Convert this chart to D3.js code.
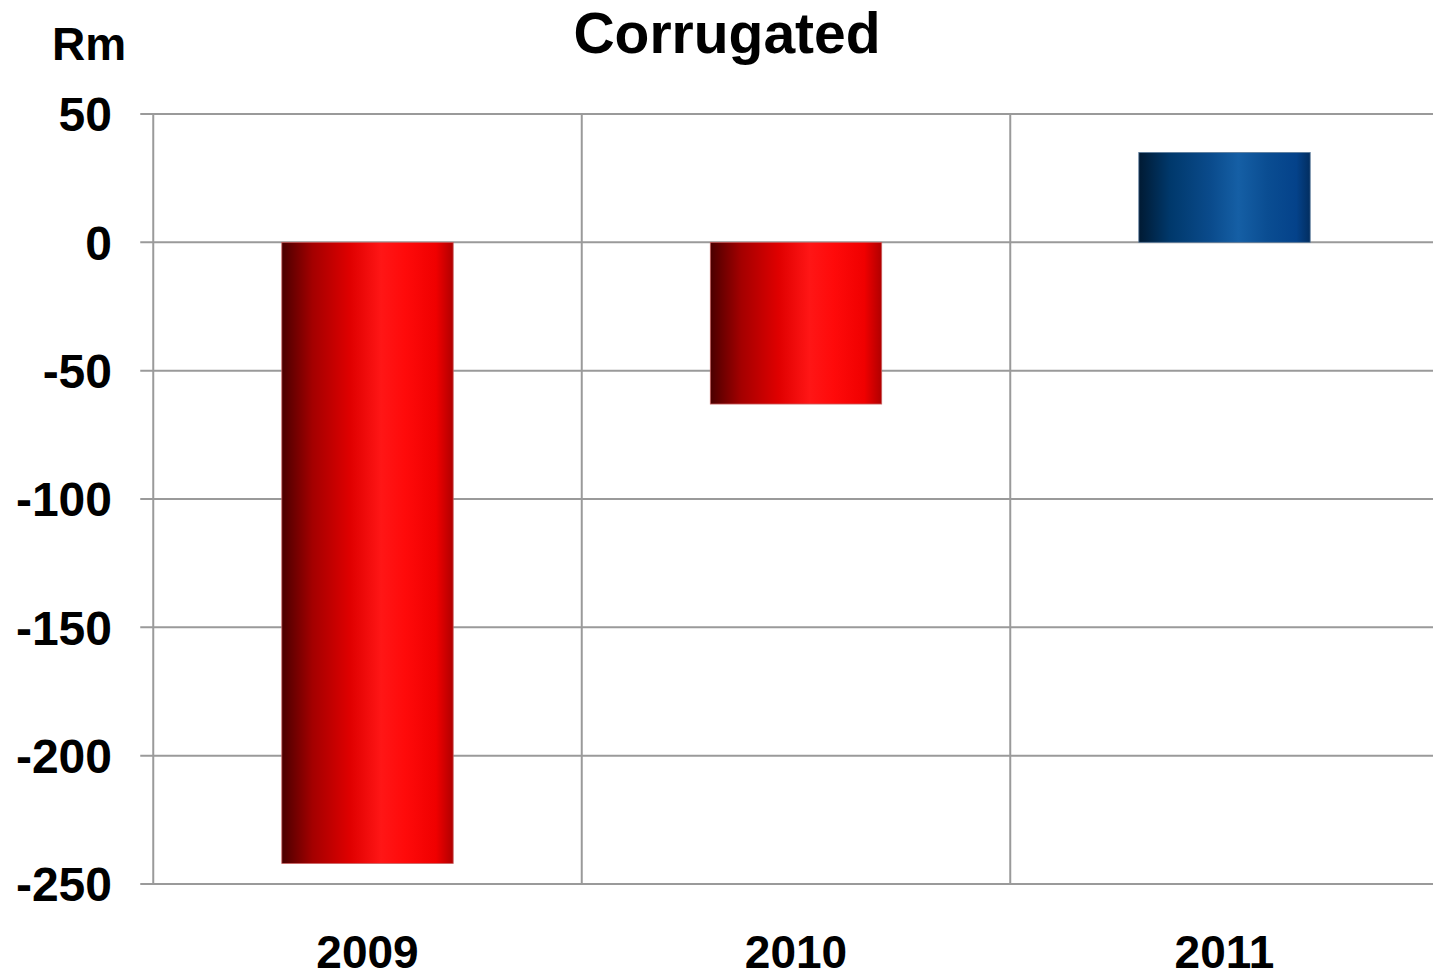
<!DOCTYPE html>
<html>
<head>
<meta charset="utf-8">
<script src="https://cdn.jsdelivr.net/npm/d3@7"></script>
<style>
  html, body { margin: 0; padding: 0; background: #fff; }
  svg { display: block; }
  text { font-family: "Liberation Sans", Arial, sans-serif; font-weight: bold; fill: #000; }
</style>
</head>
<body>
<svg id="chart" width="1433" height="978"></svg>
<script>
// Corrugated segment result by year, Rm
const years = ["2009", "2010", "2011"];
const values = [-242, -63, 35];
const yTicks = [50, 0, -50, -100, -150, -200, -250];

const svg = d3.select("#chart");
const plot = { left: 153.25, right: 1438.75, top: 114, bottom: 884 };

const x = d3.scaleBand().domain(years).range([plot.left, plot.right]).paddingInner(0).paddingOuter(0);
const y = d3.scaleLinear().domain([-250, 50]).range([plot.bottom, plot.top]);

// Cylinder-style shading for the bars
const defs = svg.append("defs");
function shade(id, stops) {
  const g = defs.append("linearGradient").attr("id", id).attr("x1", "0%").attr("x2", "100%").attr("y1", "0%").attr("y2", "0%");
  stops.forEach(([o, c]) => g.append("stop").attr("offset", o).attr("stop-color", c));
}
shade("neg", [["0%", "#4a0000"], ["18%", "#a40000"], ["40%", "#e00000"], ["58%", "#ff1616"], ["72%", "#ff0a0a"], ["90%", "#f00000"], ["100%", "#b00000"]]);
shade("pos", [["0%", "#001a33"], ["18%", "#00386b"], ["42%", "#0a4b8c"], ["58%", "#155fa5"], ["75%", "#0a4d92"], ["92%", "#04428a"], ["100%", "#022e60"]]);

const grid = "#9a9a9a";

// horizontal gridlines with left tick marks
svg.append("g").selectAll("line").data(yTicks).join("line")
  .attr("x1", plot.left - 13).attr("x2", plot.right)
  .attr("y1", d => y(d)).attr("y2", d => y(d))
  .attr("stroke", grid).attr("stroke-width", 2);

// vertical gridlines at category boundaries
const bounds = years.map(d => x(d));
svg.append("g").selectAll("line").data(bounds).join("line")
  .attr("x1", d => d).attr("x2", d => d)
  .attr("y1", plot.top).attr("y2", plot.bottom)
  .attr("stroke", grid).attr("stroke-width", 2);

// y tick labels
svg.append("g").selectAll("text").data(yTicks).join("text")
  .attr("x", 112).attr("y", d => y(d))
  .attr("dy", "0.36em")
  .attr("text-anchor", "end")
  .style("font-size", "48px")
  .text(d => d);

// bars
const barW = x.bandwidth() * 0.4;
svg.append("g").selectAll("rect").data(values).join("rect")
  .attr("x", (d, i) => x(years[i]) + (x.bandwidth() - barW) / 2)
  .attr("width", barW)
  .attr("y", d => y(Math.max(0, d)))
  .attr("height", d => Math.abs(y(d) - y(0)))
  .attr("fill", d => d < 0 ? "url(#neg)" : "url(#pos)")
  .attr("stroke", d => d < 0 ? "#c86060" : "#5a7a9a")
  .attr("stroke-width", 0.8);

// x category labels
svg.append("g").selectAll("text").data(years).join("text")
  .attr("x", d => x(d) + x.bandwidth() / 2)
  .attr("y", 968)
  .attr("text-anchor", "middle")
  .style("font-size", "46px")
  .text(d => d);

// title and unit label
svg.append("text").attr("x", 727).attr("y", 53).attr("text-anchor", "middle")
  .style("font-size", "57px").text("Corrugated");
svg.append("text").attr("x", 52).attr("y", 60)
  .style("font-size", "46px").text("Rm");
</script>
</body>
</html>
